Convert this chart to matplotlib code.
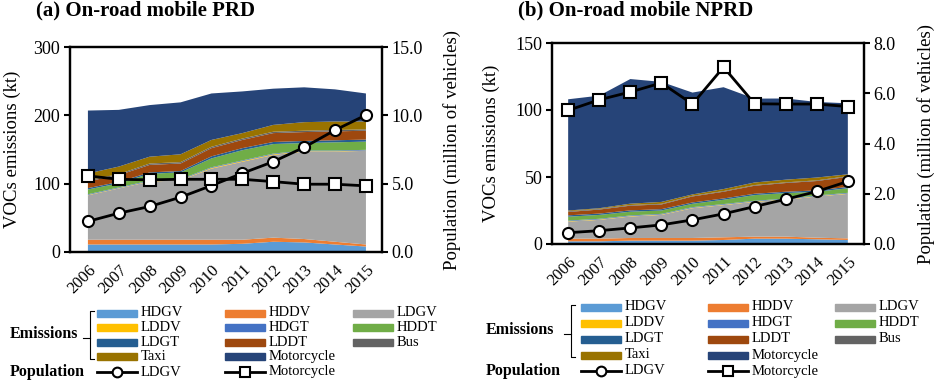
import matplotlib
matplotlib.use("Agg")
import matplotlib.pyplot as plt
from matplotlib.patches import Rectangle
from matplotlib.lines import Line2D
import numpy as np

plt.rcParams['font.family'] = ['Liberation Serif', 'DejaVu Serif']

years = ["2006", "2007", "2008", "2009", "2010", "2011", "2012", "2013", "2014", "2015"]

# stacking order, bottom to top (also legend order, row-wise)
types = ["HDGV", "HDDV", "LDGV", "LDDV", "HDGT", "HDDT", "LDGT", "LDDT", "Bus", "Taxi", "Motorcycle"]
colors = ["#5B9BD5", "#ED7D31", "#A5A5A5", "#FFC000", "#4472C4", "#70AD47",
          "#255E91", "#9E480E", "#636363", "#997300", "#264478"]

# ── (a) PRD emissions, kt ───────────────────────────────────────────────────
prd_emis = {
    "HDGV":       [11, 11, 11, 11, 11, 12, 15, 14, 11, 8],
    "HDDV":       [7, 7, 7, 7, 7, 6, 6, 5, 4, 3],
    "LDGV":       [65, 75, 85, 87, 104, 114, 121, 128, 132, 137],
    "LDDV":       [0.5, 0.5, 0.5, 0.5, 1, 1, 1, 0.5, 0.5, 0.5],
    "HDGT":       [1, 1, 1, 1, 1, 1, 1, 1, 1, 1],
    "HDDT":       [7, 6, 10, 10, 13, 15, 14, 11, 12, 12],
    "LDGT":       [2, 2, 2, 2, 3, 3, 3, 3, 3, 3],
    "LDDT":       [10, 10, 11, 11, 12, 12, 13, 13, 13, 13],
    "Bus":        [1.5, 1.5, 2, 2, 2, 2, 2, 2, 2, 2],
    "Taxi":       [10, 11, 10, 11.5, 10, 8, 10, 12.5, 12.5, 11.5],
    "Motorcycle": [92, 83, 75.5, 76, 68, 61, 53, 51, 47, 41],
}
prd_pop_ldgv = [2.24, 2.84, 3.33, 4.01, 4.86, 5.76, 6.61, 7.66, 8.92, 10.02]
prd_pop_moto = [5.57, 5.32, 5.28, 5.32, 5.32, 5.32, 5.15, 4.96, 4.96, 4.84]

# ── (b) NPRD emissions, kt ──────────────────────────────────────────────────
nprd_emis = {
    "HDGV":       [2, 2, 2.5, 2.5, 2.5, 3, 4, 4, 3.5, 3],
    "HDDV":       [2, 2, 2, 2, 2, 2, 1.5, 1.5, 1.2, 1.2],
    "LDGV":       [12.7, 14, 16, 17.2, 22.2, 24, 26, 27.5, 30.7, 33.2],
    "LDDV":       [0.3] * 10,
    "HDGT":       [0.5] * 10,
    "HDDT":       [2.9, 2.9, 2.8, 2.5, 2.5, 3.2, 4.2, 4.2, 2.8, 3.4],
    "LDGT":       [1] * 10,
    "LDDT":       [2.5, 3, 3.5, 3.5, 4.5, 5, 6, 6.5, 7, 7.5],
    "Bus":        [0.5] * 10,
    "Taxi":       [0.6, 0.5, 1, 1.4, 1, 1.5, 1.9, 2, 2.1, 1.4],
    "Motorcycle": [83, 84, 93, 89.6, 76, 76, 62.6, 60.6, 56.4, 53],
}
nprd_pop_ldgv = [0.45, 0.53, 0.64, 0.76, 0.96, 1.20, 1.49, 1.78, 2.09, 2.49]
nprd_pop_moto = [5.32, 5.74, 6.05, 6.41, 5.57, 7.04, 5.58, 5.57, 5.57, 5.47]

FS = 11.5
LFS = 10.5   # legend text


def panel(rect, title, title_x, emis, pop_ldgv, pop_moto, ymax, ystep, pmax, pstep, xlim,
          ylab_x, rlab_x):
    ax = fig.add_axes(rect)
    x = np.arange(len(years))
    ax.stackplot(x, [emis[t] for t in types], colors=colors, lw=0)
    ax.set_xlim(*xlim)
    ax.set_ylim(0, ymax)
    ax.set_yticks(np.arange(0, ymax + 1, ystep))
    ax.set_xticks(x)
    ax.set_xticklabels(years, rotation=45, ha="right", rotation_mode="anchor")
    ax.tick_params(axis="x", length=0, pad=7, labelsize=FS + 0.5)
    ax.tick_params(axis="y", direction="out", length=4, width=1.5, labelsize=FS + 1.5, pad=3)
    for s in ax.spines.values():
        s.set_linewidth(1.6)

    ax2 = ax.twinx()
    ax2.set_xlim(*xlim)
    ax2.plot(x, pop_ldgv, color="black", lw=2, marker="o", ms=8,
             mfc="white", mec="black", mew=1.5)
    ax2.plot(x, pop_moto, color="black", lw=2, marker="s", ms=8.5,
             mfc="white", mec="black", mew=1.5)
    ax2.set_ylim(0, pmax)
    ticks = np.arange(0, pmax + 0.01, pstep)
    ax2.set_yticks(ticks)
    ax2.set_yticklabels([f"{v:.1f}" for v in ticks])
    ax2.tick_params(axis="y", direction="out", length=4, width=1.5, labelsize=FS + 1.5, pad=3)
    for s in ax2.spines.values():
        s.set_linewidth(1.6)

    ymid = rect[1] + rect[3] / 2
    fig.text(ylab_x, ymid, "VOCs emissions (kt)", rotation=90, ha="center", va="center",
             fontsize=FS + 2)
    fig.text(rlab_x, ymid, "Population (million of vehicles)", rotation=90, ha="center",
             va="center", fontsize=FS + 2)
    fig.text(title_x, 0.972, title, ha="left", va="center", fontsize=15, fontweight="bold")
    return ax


def legend(x0, rows_y, col_x, brace_x, label_x):
    W, H = 936.0, 383.0
    fx = lambda px: px / W
    fy = lambda py: 1 - py / H
    pw = 40
    for k, (t, c) in enumerate(zip(types, colors)):
        r, col = divmod(k, 3)
        px = x0 + col_x[col]
        py = rows_y[r]
        fig.patches.append(Rectangle((fx(px), fy(py + 3.5)), pw / W, 7 / H, color=c,
                                     transform=fig.transFigure, figure=fig))
        fig.text(fx(px + pw + 4), fy(py), t, ha="left", va="center", fontsize=LFS)
    # bracket grouping the emission rows
    bx = x0 + brace_x
    ytop, ybot = rows_y[0] - 2, rows_y[3] + 2
    ymid = (ytop + ybot) / 2 + 3
    fig.lines.append(Line2D([fx(bx + 4), fx(bx), fx(bx), fx(bx + 4)],
                            [fy(ytop), fy(ytop), fy(ybot), fy(ybot)], color="black", lw=0.8,
                            transform=fig.transFigure))
    fig.lines.append(Line2D([fx(bx - 7), fx(bx)], [fy(ymid), fy(ymid)], color="black", lw=0.8,
                            transform=fig.transFigure))
    fig.text(fx(x0 + label_x), fy((ytop + ybot) / 2 - 1), "Emissions", ha="left", va="center",
             fontsize=LFS + 1, fontweight="bold")
    # population row
    py = rows_y[4]
    fig.text(fx(x0 + label_x), fy(py), "Population", ha="left", va="center",
             fontsize=LFS + 1, fontweight="bold")
    for col, (lab, mk) in enumerate([("LDGV", "o"), ("Motorcycle", "s")]):
        px = x0 + col_x[col]
        fig.lines.append(Line2D([fx(px), fx(px + pw)], [fy(py), fy(py)], color="black", lw=2,
                                transform=fig.transFigure))
        fig.lines.append(Line2D([fx(px + pw / 2)], [fy(py)], marker=mk, ms=7, mfc="white",
                                mec="black", mew=1.5, color="black",
                                transform=fig.transFigure))
        fig.text(fx(px + pw + 4), fy(py), lab, ha="left", va="center", fontsize=LFS)


fig = plt.figure(figsize=(9.36, 3.83), dpi=100)

panel([70 / 936, 1 - 252 / 383, 312 / 936, 205 / 383], "(a) On-road mobile PRD", 36 / 936,
      prd_emis, prd_pop_ldgv, prd_pop_moto, 300, 100, 15, 5, (-0.58, 9.52),
      12 / 936, 452 / 936)
panel([552 / 936, 1 - 244 / 383, 312 / 936, 201 / 383], "(b) On-road mobile NPRD", 518 / 936,
      nprd_emis, nprd_pop_ldgv, nprd_pop_moto, 150, 50, 8, 2, (-0.52, 9.52),
      491 / 936, 926 / 936)

legend(0, [313, 327.5, 342, 356.5, 372], [97, 225, 353], 90, 10)
legend(466, [307, 323, 339, 355, 371], [115, 242, 369], 105, 20)

fig.savefig("out.png", dpi=100)
